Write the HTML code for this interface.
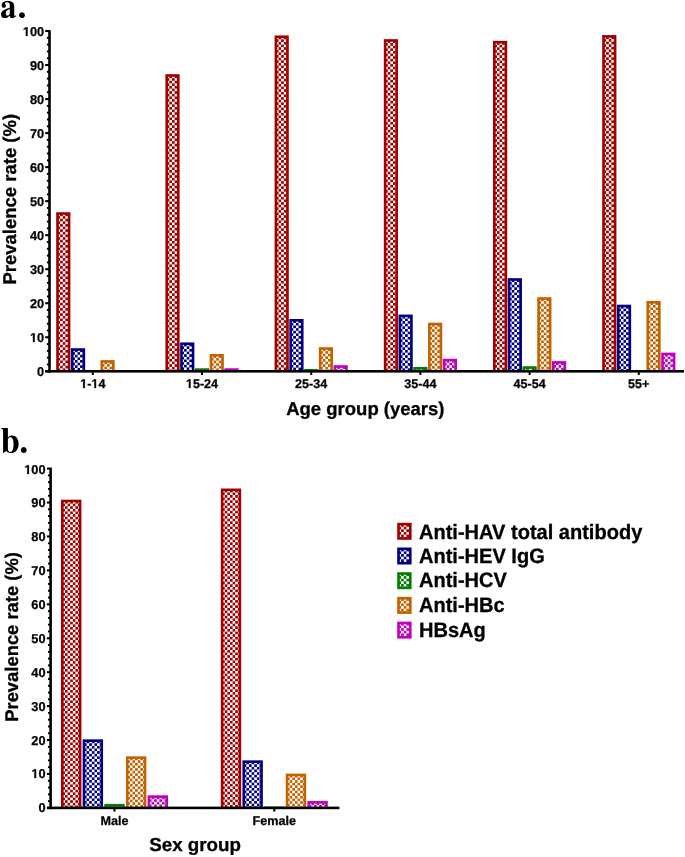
<!DOCTYPE html><html><head><meta charset="utf-8"><style>html,body{margin:0;padding:0;background:#fff;}svg{display:block;will-change:transform;text-rendering:geometricPrecision;}.ts text,.g1{stroke:#000;stroke-width:0.25px;}.g1{vector-effect:non-scaling-stroke;}.tb text{stroke:#000;stroke-width:0.3px;}</style></head><body><svg width="685" height="857" viewBox="0 0 685 857"><defs><pattern id="q0" patternUnits="userSpaceOnUse" x="57.50" y="213.51" width="5.250" height="5.250"><rect width="5.250" height="5.250" fill="#a00000"/><rect width="2.625" height="2.625" fill="#fff"/><rect x="2.625" y="2.625" width="2.625" height="2.625" fill="#fff"/></pattern><pattern id="q1" patternUnits="userSpaceOnUse" x="72.25" y="349.53" width="5.250" height="5.250"><rect width="5.250" height="5.250" fill="#000080"/><rect width="2.625" height="2.625" fill="#fff"/><rect x="2.625" y="2.625" width="2.625" height="2.625" fill="#fff"/></pattern><pattern id="q2" patternUnits="userSpaceOnUse" x="101.75" y="361.40" width="5.250" height="5.250"><rect width="5.250" height="5.250" fill="#c46200"/><rect width="2.625" height="2.625" fill="#fff"/><rect x="2.625" y="2.625" width="2.625" height="2.625" fill="#fff"/></pattern><pattern id="q3" patternUnits="userSpaceOnUse" x="166.70" y="75.48" width="5.250" height="5.250"><rect width="5.250" height="5.250" fill="#a00000"/><rect width="2.625" height="2.625" fill="#fff"/><rect x="2.625" y="2.625" width="2.625" height="2.625" fill="#fff"/></pattern><pattern id="q4" patternUnits="userSpaceOnUse" x="181.45" y="343.74" width="5.250" height="5.250"><rect width="5.250" height="5.250" fill="#000080"/><rect width="2.625" height="2.625" fill="#fff"/><rect x="2.625" y="2.625" width="2.625" height="2.625" fill="#fff"/></pattern><pattern id="q5" patternUnits="userSpaceOnUse" x="210.95" y="355.31" width="5.250" height="5.250"><rect width="5.250" height="5.250" fill="#c46200"/><rect width="2.625" height="2.625" fill="#fff"/><rect x="2.625" y="2.625" width="2.625" height="2.625" fill="#fff"/></pattern><pattern id="q6" patternUnits="userSpaceOnUse" x="275.90" y="36.72" width="5.250" height="5.250"><rect width="5.250" height="5.250" fill="#a00000"/><rect width="2.625" height="2.625" fill="#fff"/><rect x="2.625" y="2.625" width="2.625" height="2.625" fill="#fff"/></pattern><pattern id="q7" patternUnits="userSpaceOnUse" x="290.65" y="320.30" width="5.250" height="5.250"><rect width="5.250" height="5.250" fill="#000080"/><rect width="2.625" height="2.625" fill="#fff"/><rect x="2.625" y="2.625" width="2.625" height="2.625" fill="#fff"/></pattern><pattern id="q8" patternUnits="userSpaceOnUse" x="320.15" y="348.51" width="5.250" height="5.250"><rect width="5.250" height="5.250" fill="#c46200"/><rect width="2.625" height="2.625" fill="#fff"/><rect x="2.625" y="2.625" width="2.625" height="2.625" fill="#fff"/></pattern><pattern id="q9" patternUnits="userSpaceOnUse" x="334.90" y="366.51" width="5.250" height="5.250"><rect width="5.250" height="5.250" fill="#c000c0"/><rect width="2.625" height="2.625" fill="#fff"/><rect x="2.625" y="2.625" width="2.625" height="2.625" fill="#fff"/></pattern><pattern id="q10" patternUnits="userSpaceOnUse" x="385.10" y="40.47" width="5.250" height="5.250"><rect width="5.250" height="5.250" fill="#a00000"/><rect width="2.625" height="2.625" fill="#fff"/><rect x="2.625" y="2.625" width="2.625" height="2.625" fill="#fff"/></pattern><pattern id="q11" patternUnits="userSpaceOnUse" x="399.85" y="315.87" width="5.250" height="5.250"><rect width="5.250" height="5.250" fill="#000080"/><rect width="2.625" height="2.625" fill="#fff"/><rect x="2.625" y="2.625" width="2.625" height="2.625" fill="#fff"/></pattern><pattern id="q12" patternUnits="userSpaceOnUse" x="414.60" y="368.21" width="5.250" height="5.250"><rect width="5.250" height="5.250" fill="#008000"/><rect width="2.625" height="2.625" fill="#fff"/><rect x="2.625" y="2.625" width="2.625" height="2.625" fill="#fff"/></pattern><pattern id="q13" patternUnits="userSpaceOnUse" x="429.35" y="324.01" width="5.250" height="5.250"><rect width="5.250" height="5.250" fill="#c46200"/><rect width="2.625" height="2.625" fill="#fff"/><rect x="2.625" y="2.625" width="2.625" height="2.625" fill="#fff"/></pattern><pattern id="q14" patternUnits="userSpaceOnUse" x="444.10" y="360.08" width="5.250" height="5.250"><rect width="5.250" height="5.250" fill="#c000c0"/><rect width="2.625" height="2.625" fill="#fff"/><rect x="2.625" y="2.625" width="2.625" height="2.625" fill="#fff"/></pattern><pattern id="q15" patternUnits="userSpaceOnUse" x="494.30" y="42.17" width="5.250" height="5.250"><rect width="5.250" height="5.250" fill="#a00000"/><rect width="2.625" height="2.625" fill="#fff"/><rect x="2.625" y="2.625" width="2.625" height="2.625" fill="#fff"/></pattern><pattern id="q16" patternUnits="userSpaceOnUse" x="509.05" y="279.49" width="5.250" height="5.250"><rect width="5.250" height="5.250" fill="#000080"/><rect width="2.625" height="2.625" fill="#fff"/><rect x="2.625" y="2.625" width="2.625" height="2.625" fill="#fff"/></pattern><pattern id="q17" patternUnits="userSpaceOnUse" x="523.80" y="367.53" width="5.250" height="5.250"><rect width="5.250" height="5.250" fill="#008000"/><rect width="2.625" height="2.625" fill="#fff"/><rect x="2.625" y="2.625" width="2.625" height="2.625" fill="#fff"/></pattern><pattern id="q18" patternUnits="userSpaceOnUse" x="538.55" y="298.52" width="5.250" height="5.250"><rect width="5.250" height="5.250" fill="#c46200"/><rect width="2.625" height="2.625" fill="#fff"/><rect x="2.625" y="2.625" width="2.625" height="2.625" fill="#fff"/></pattern><pattern id="q19" patternUnits="userSpaceOnUse" x="553.30" y="362.43" width="5.250" height="5.250"><rect width="5.250" height="5.250" fill="#c000c0"/><rect width="2.625" height="2.625" fill="#fff"/><rect x="2.625" y="2.625" width="2.625" height="2.625" fill="#fff"/></pattern><pattern id="q20" patternUnits="userSpaceOnUse" x="603.50" y="36.38" width="5.250" height="5.250"><rect width="5.250" height="5.250" fill="#a00000"/><rect width="2.625" height="2.625" fill="#fff"/><rect x="2.625" y="2.625" width="2.625" height="2.625" fill="#fff"/></pattern><pattern id="q21" patternUnits="userSpaceOnUse" x="618.25" y="306.00" width="5.250" height="5.250"><rect width="5.250" height="5.250" fill="#000080"/><rect width="2.625" height="2.625" fill="#fff"/><rect x="2.625" y="2.625" width="2.625" height="2.625" fill="#fff"/></pattern><pattern id="q22" patternUnits="userSpaceOnUse" x="647.75" y="302.26" width="5.250" height="5.250"><rect width="5.250" height="5.250" fill="#c46200"/><rect width="2.625" height="2.625" fill="#fff"/><rect x="2.625" y="2.625" width="2.625" height="2.625" fill="#fff"/></pattern><pattern id="q23" patternUnits="userSpaceOnUse" x="662.50" y="353.95" width="5.250" height="5.250"><rect width="5.250" height="5.250" fill="#c000c0"/><rect width="2.625" height="2.625" fill="#fff"/><rect x="2.625" y="2.625" width="2.625" height="2.625" fill="#fff"/></pattern><pattern id="q24" patternUnits="userSpaceOnUse" x="62.30" y="500.98" width="5.250" height="5.250"><rect width="5.250" height="5.250" fill="#a00000"/><rect width="2.625" height="2.625" fill="#fff"/><rect x="2.625" y="2.625" width="2.625" height="2.625" fill="#fff"/></pattern><pattern id="q25" patternUnits="userSpaceOnUse" x="83.95" y="740.66" width="5.250" height="5.250"><rect width="5.250" height="5.250" fill="#000080"/><rect width="2.625" height="2.625" fill="#fff"/><rect x="2.625" y="2.625" width="2.625" height="2.625" fill="#fff"/></pattern><pattern id="q26" patternUnits="userSpaceOnUse" x="105.60" y="805.20" width="5.250" height="5.250"><rect width="5.250" height="5.250" fill="#008000"/><rect width="2.625" height="2.625" fill="#fff"/><rect x="2.625" y="2.625" width="2.625" height="2.625" fill="#fff"/></pattern><pattern id="q27" patternUnits="userSpaceOnUse" x="127.25" y="757.63" width="5.250" height="5.250"><rect width="5.250" height="5.250" fill="#c46200"/><rect width="2.625" height="2.625" fill="#fff"/><rect x="2.625" y="2.625" width="2.625" height="2.625" fill="#fff"/></pattern><pattern id="q28" patternUnits="userSpaceOnUse" x="148.90" y="796.61" width="5.250" height="5.250"><rect width="5.250" height="5.250" fill="#c000c0"/><rect width="2.625" height="2.625" fill="#fff"/><rect x="2.625" y="2.625" width="2.625" height="2.625" fill="#fff"/></pattern><pattern id="q29" patternUnits="userSpaceOnUse" x="222.10" y="489.82" width="5.250" height="5.250"><rect width="5.250" height="5.250" fill="#a00000"/><rect width="2.625" height="2.625" fill="#fff"/><rect x="2.625" y="2.625" width="2.625" height="2.625" fill="#fff"/></pattern><pattern id="q30" patternUnits="userSpaceOnUse" x="243.75" y="761.66" width="5.250" height="5.250"><rect width="5.250" height="5.250" fill="#000080"/><rect width="2.625" height="2.625" fill="#fff"/><rect x="2.625" y="2.625" width="2.625" height="2.625" fill="#fff"/></pattern><pattern id="q31" patternUnits="userSpaceOnUse" x="287.05" y="774.90" width="5.250" height="5.250"><rect width="5.250" height="5.250" fill="#c46200"/><rect width="2.625" height="2.625" fill="#fff"/><rect x="2.625" y="2.625" width="2.625" height="2.625" fill="#fff"/></pattern><pattern id="q32" patternUnits="userSpaceOnUse" x="308.70" y="802.35" width="5.250" height="5.250"><rect width="5.250" height="5.250" fill="#c000c0"/><rect width="2.625" height="2.625" fill="#fff"/><rect x="2.625" y="2.625" width="2.625" height="2.625" fill="#fff"/></pattern><pattern id="q33" patternUnits="userSpaceOnUse" x="398.50" y="524.10" width="5.250" height="5.250"><rect width="5.250" height="5.250" fill="#a00000"/><rect width="2.625" height="2.625" fill="#fff"/><rect x="2.625" y="2.625" width="2.625" height="2.625" fill="#fff"/></pattern><pattern id="q34" patternUnits="userSpaceOnUse" x="398.50" y="548.80" width="5.250" height="5.250"><rect width="5.250" height="5.250" fill="#000080"/><rect width="2.625" height="2.625" fill="#fff"/><rect x="2.625" y="2.625" width="2.625" height="2.625" fill="#fff"/></pattern><pattern id="q35" patternUnits="userSpaceOnUse" x="398.50" y="573.50" width="5.250" height="5.250"><rect width="5.250" height="5.250" fill="#008000"/><rect width="2.625" height="2.625" fill="#fff"/><rect x="2.625" y="2.625" width="2.625" height="2.625" fill="#fff"/></pattern><pattern id="q36" patternUnits="userSpaceOnUse" x="398.50" y="598.20" width="5.250" height="5.250"><rect width="5.250" height="5.250" fill="#c46200"/><rect width="2.625" height="2.625" fill="#fff"/><rect x="2.625" y="2.625" width="2.625" height="2.625" fill="#fff"/></pattern><pattern id="q37" patternUnits="userSpaceOnUse" x="398.50" y="622.90" width="5.250" height="5.250"><rect width="5.250" height="5.250" fill="#c000c0"/><rect width="2.625" height="2.625" fill="#fff"/><rect x="2.625" y="2.625" width="2.625" height="2.625" fill="#fff"/></pattern></defs><rect width="685" height="857" fill="#fff"/><g font-family="Liberation Sans, sans-serif" font-weight="bold" fill="#000"><rect x="56.20" y="212.21" width="14.20" height="158.09" fill="#a00000"/><rect x="58.85" y="214.86" width="8.90" height="155.44" fill="url(#q0)"/><rect x="70.95" y="348.23" width="14.20" height="22.07" fill="#000080"/><rect x="73.60" y="350.88" width="8.90" height="19.42" fill="url(#q1)"/><rect x="100.45" y="360.10" width="14.20" height="10.20" fill="#c46200"/><rect x="103.10" y="362.75" width="8.90" height="7.55" fill="url(#q2)"/><rect x="165.40" y="74.18" width="14.20" height="296.12" fill="#a00000"/><rect x="168.05" y="76.83" width="8.90" height="293.47" fill="url(#q3)"/><rect x="180.15" y="342.44" width="14.20" height="27.86" fill="#000080"/><rect x="182.80" y="345.09" width="8.90" height="25.21" fill="url(#q4)"/><rect x="194.90" y="368.27" width="14.20" height="2.03" fill="#008000"/><rect x="209.65" y="354.01" width="14.20" height="16.29" fill="#c46200"/><rect x="212.30" y="356.66" width="8.90" height="13.64" fill="url(#q5)"/><rect x="224.40" y="368.27" width="14.20" height="2.03" fill="#c000c0"/><rect x="274.60" y="35.42" width="14.20" height="334.88" fill="#a00000"/><rect x="277.25" y="38.07" width="8.90" height="332.23" fill="url(#q6)"/><rect x="289.35" y="319.00" width="14.20" height="51.30" fill="#000080"/><rect x="292.00" y="321.65" width="8.90" height="48.65" fill="url(#q7)"/><rect x="304.10" y="368.95" width="14.20" height="1.35" fill="#008000"/><rect x="318.85" y="347.21" width="14.20" height="23.09" fill="#c46200"/><rect x="321.50" y="349.86" width="8.90" height="20.44" fill="url(#q8)"/><rect x="333.60" y="365.21" width="14.20" height="5.09" fill="#c000c0"/><rect x="336.25" y="367.86" width="8.90" height="2.44" fill="url(#q9)"/><rect x="383.80" y="39.17" width="14.20" height="331.13" fill="#a00000"/><rect x="386.45" y="41.82" width="8.90" height="328.48" fill="url(#q10)"/><rect x="398.55" y="314.57" width="14.20" height="55.73" fill="#000080"/><rect x="401.20" y="317.22" width="8.90" height="53.08" fill="url(#q11)"/><rect x="413.30" y="366.91" width="14.20" height="3.39" fill="#008000"/><rect x="415.95" y="369.56" width="8.90" height="0.74" fill="url(#q12)"/><rect x="428.05" y="322.71" width="14.20" height="47.59" fill="#c46200"/><rect x="430.70" y="325.36" width="8.90" height="44.94" fill="url(#q13)"/><rect x="442.80" y="358.78" width="14.20" height="11.52" fill="#c000c0"/><rect x="445.45" y="361.43" width="8.90" height="8.87" fill="url(#q14)"/><rect x="493.00" y="40.87" width="14.20" height="329.43" fill="#a00000"/><rect x="495.65" y="43.52" width="8.90" height="326.78" fill="url(#q15)"/><rect x="507.75" y="278.19" width="14.20" height="92.11" fill="#000080"/><rect x="510.40" y="280.84" width="8.90" height="89.46" fill="url(#q16)"/><rect x="522.50" y="366.23" width="14.20" height="4.07" fill="#008000"/><rect x="525.15" y="368.88" width="8.90" height="1.42" fill="url(#q17)"/><rect x="537.25" y="297.22" width="14.20" height="73.08" fill="#c46200"/><rect x="539.90" y="299.87" width="8.90" height="70.43" fill="url(#q18)"/><rect x="552.00" y="361.13" width="14.20" height="9.17" fill="#c000c0"/><rect x="554.65" y="363.78" width="8.90" height="6.52" fill="url(#q19)"/><rect x="602.20" y="35.08" width="14.20" height="335.22" fill="#a00000"/><rect x="604.85" y="37.73" width="8.90" height="332.57" fill="url(#q20)"/><rect x="616.95" y="304.70" width="14.20" height="65.60" fill="#000080"/><rect x="619.60" y="307.35" width="8.90" height="62.95" fill="url(#q21)"/><rect x="646.45" y="300.96" width="14.20" height="69.34" fill="#c46200"/><rect x="649.10" y="303.61" width="8.90" height="66.69" fill="url(#q22)"/><rect x="661.20" y="352.65" width="14.20" height="17.65" fill="#c000c0"/><rect x="663.85" y="355.30" width="8.90" height="15.00" fill="url(#q23)"/><rect x="48.20" y="30.20" width="2.6" height="342.40" fill="#000"/><rect x="45.20" y="370.00" width="638.80" height="2.6" fill="#000"/><g class="ts" font-size="12.8" text-anchor="end"><rect x="45.20" y="370.25" width="4.3" height="2.1" fill="#000"/><text transform="translate(44.20,376.00)">0</text><rect x="46.90" y="363.54" width="2.6" height="1.9" fill="#000"/><rect x="46.90" y="356.74" width="2.6" height="1.9" fill="#000"/><rect x="46.90" y="349.93" width="2.6" height="1.9" fill="#000"/><rect x="46.90" y="343.13" width="2.6" height="1.9" fill="#000"/><rect x="45.20" y="336.22" width="4.3" height="2.1" fill="#000"/><text transform="translate(44.20,341.97)"> 0</text><path class="g1" transform="translate(29.963,342.00) scale(0.006250,-0.006250)" d="M478 0L478 1170L140 959L140 1180L493 1409L759 1409L759 0Z"/><rect x="46.90" y="329.51" width="2.6" height="1.9" fill="#000"/><rect x="46.90" y="322.71" width="2.6" height="1.9" fill="#000"/><rect x="46.90" y="315.90" width="2.6" height="1.9" fill="#000"/><rect x="46.90" y="309.10" width="2.6" height="1.9" fill="#000"/><rect x="45.20" y="302.19" width="4.3" height="2.1" fill="#000"/><text transform="translate(44.20,307.94)">20</text><rect x="46.90" y="295.48" width="2.6" height="1.9" fill="#000"/><rect x="46.90" y="288.68" width="2.6" height="1.9" fill="#000"/><rect x="46.90" y="281.87" width="2.6" height="1.9" fill="#000"/><rect x="46.90" y="275.07" width="2.6" height="1.9" fill="#000"/><rect x="45.20" y="268.16" width="4.3" height="2.1" fill="#000"/><text transform="translate(44.20,273.91)">30</text><rect x="46.90" y="261.45" width="2.6" height="1.9" fill="#000"/><rect x="46.90" y="254.65" width="2.6" height="1.9" fill="#000"/><rect x="46.90" y="247.84" width="2.6" height="1.9" fill="#000"/><rect x="46.90" y="241.04" width="2.6" height="1.9" fill="#000"/><rect x="45.20" y="234.13" width="4.3" height="2.1" fill="#000"/><text transform="translate(44.20,239.88)">40</text><rect x="46.90" y="227.42" width="2.6" height="1.9" fill="#000"/><rect x="46.90" y="220.62" width="2.6" height="1.9" fill="#000"/><rect x="46.90" y="213.81" width="2.6" height="1.9" fill="#000"/><rect x="46.90" y="207.01" width="2.6" height="1.9" fill="#000"/><rect x="45.20" y="200.10" width="4.3" height="2.1" fill="#000"/><text transform="translate(44.20,205.85)">50</text><rect x="46.90" y="193.39" width="2.6" height="1.9" fill="#000"/><rect x="46.90" y="186.59" width="2.6" height="1.9" fill="#000"/><rect x="46.90" y="179.78" width="2.6" height="1.9" fill="#000"/><rect x="46.90" y="172.98" width="2.6" height="1.9" fill="#000"/><rect x="45.20" y="166.07" width="4.3" height="2.1" fill="#000"/><text transform="translate(44.20,171.82)">60</text><rect x="46.90" y="159.36" width="2.6" height="1.9" fill="#000"/><rect x="46.90" y="152.56" width="2.6" height="1.9" fill="#000"/><rect x="46.90" y="145.75" width="2.6" height="1.9" fill="#000"/><rect x="46.90" y="138.95" width="2.6" height="1.9" fill="#000"/><rect x="45.20" y="132.04" width="4.3" height="2.1" fill="#000"/><text transform="translate(44.20,137.79)">70</text><rect x="46.90" y="125.33" width="2.6" height="1.9" fill="#000"/><rect x="46.90" y="118.53" width="2.6" height="1.9" fill="#000"/><rect x="46.90" y="111.72" width="2.6" height="1.9" fill="#000"/><rect x="46.90" y="104.92" width="2.6" height="1.9" fill="#000"/><rect x="45.20" y="98.01" width="4.3" height="2.1" fill="#000"/><text transform="translate(44.20,103.76)">80</text><rect x="46.90" y="91.30" width="2.6" height="1.9" fill="#000"/><rect x="46.90" y="84.50" width="2.6" height="1.9" fill="#000"/><rect x="46.90" y="77.69" width="2.6" height="1.9" fill="#000"/><rect x="46.90" y="70.89" width="2.6" height="1.9" fill="#000"/><rect x="45.20" y="63.98" width="4.3" height="2.1" fill="#000"/><text transform="translate(44.20,69.73)">90</text><rect x="46.90" y="57.27" width="2.6" height="1.9" fill="#000"/><rect x="46.90" y="50.47" width="2.6" height="1.9" fill="#000"/><rect x="46.90" y="43.66" width="2.6" height="1.9" fill="#000"/><rect x="46.90" y="36.86" width="2.6" height="1.9" fill="#000"/><rect x="45.20" y="29.95" width="4.3" height="2.1" fill="#000"/><text transform="translate(44.20,35.70)"> 00</text><path class="g1" transform="translate(22.844,36.00) scale(0.006250,-0.006250)" d="M478 0L478 1170L140 959L140 1180L493 1409L759 1409L759 0Z"/></g><g class="ts" font-size="12.6" text-anchor="middle"><rect x="91.80" y="371.30" width="2" height="3.7" fill="#000"/><text transform="translate(92.80,388.00)"> - 4</text><path class="g1" transform="translate(80.191,388.00) scale(0.006152,-0.006152)" d="M478 0L478 1170L140 959L140 1180L493 1409L759 1409L759 0Z"/><path class="g1" transform="translate(91.394,388.00) scale(0.006152,-0.006152)" d="M478 0L478 1170L140 959L140 1180L493 1409L759 1409L759 0Z"/><rect x="201.00" y="371.30" width="2" height="3.7" fill="#000"/><text transform="translate(202.00,388.00)"> 5-24</text><path class="g1" transform="translate(185.887,388.00) scale(0.006152,-0.006152)" d="M478 0L478 1170L140 959L140 1180L493 1409L759 1409L759 0Z"/><rect x="310.20" y="371.30" width="2" height="3.7" fill="#000"/><text transform="translate(311.20,388.00)">25-34</text><rect x="419.40" y="371.30" width="2" height="3.7" fill="#000"/><text transform="translate(420.40,388.00)">35-44</text><rect x="528.60" y="371.30" width="2" height="3.7" fill="#000"/><text transform="translate(529.60,388.00)">45-54</text><rect x="637.80" y="371.30" width="2" height="3.7" fill="#000"/><text transform="translate(638.80,388.00)">55+</text></g><rect x="61.00" y="499.68" width="20.40" height="307.22" fill="#a00000"/><rect x="63.65" y="502.33" width="15.10" height="304.57" fill="url(#q24)"/><rect x="82.65" y="739.36" width="20.40" height="67.54" fill="#000080"/><rect x="85.30" y="742.01" width="15.10" height="64.89" fill="url(#q25)"/><rect x="104.30" y="803.90" width="20.40" height="3.00" fill="#008000"/><rect x="106.95" y="806.55" width="15.10" height="0.35" fill="url(#q26)"/><rect x="125.95" y="756.33" width="20.40" height="50.57" fill="#c46200"/><rect x="128.60" y="758.98" width="15.10" height="47.92" fill="url(#q27)"/><rect x="147.60" y="795.31" width="20.40" height="11.59" fill="#c000c0"/><rect x="150.25" y="797.96" width="15.10" height="8.94" fill="url(#q28)"/><rect x="220.80" y="488.52" width="20.40" height="318.38" fill="#a00000"/><rect x="223.45" y="491.17" width="15.10" height="315.73" fill="url(#q29)"/><rect x="242.45" y="760.36" width="20.40" height="46.54" fill="#000080"/><rect x="245.10" y="763.01" width="15.10" height="43.89" fill="url(#q30)"/><rect x="264.10" y="806.47" width="20.40" height="0.43" fill="#008000"/><rect x="285.75" y="773.60" width="20.40" height="33.30" fill="#c46200"/><rect x="288.40" y="776.25" width="15.10" height="30.65" fill="url(#q31)"/><rect x="307.40" y="801.05" width="20.40" height="5.85" fill="#c000c0"/><rect x="310.05" y="803.70" width="15.10" height="3.20" fill="url(#q32)"/><rect x="49.30" y="467.60" width="2.6" height="341.60" fill="#000"/><rect x="46.95" y="806.60" width="292.45" height="2.6" fill="#000"/><g class="ts" font-size="12.8" text-anchor="end"><rect x="46.95" y="806.85" width="3.65" height="2.1" fill="#000"/><text transform="translate(45.60,812.30)">0</text><rect x="48.00" y="800.16" width="2.6" height="1.9" fill="#000"/><rect x="48.00" y="793.38" width="2.6" height="1.9" fill="#000"/><rect x="48.00" y="786.59" width="2.6" height="1.9" fill="#000"/><rect x="48.00" y="779.81" width="2.6" height="1.9" fill="#000"/><rect x="46.95" y="772.92" width="3.65" height="2.1" fill="#000"/><text transform="translate(45.60,778.43)"> 0</text><path class="g1" transform="translate(31.363,778.00) scale(0.006250,-0.006250)" d="M478 0L478 1170L140 959L140 1180L493 1409L759 1409L759 0Z"/><rect x="48.00" y="766.23" width="2.6" height="1.9" fill="#000"/><rect x="48.00" y="759.45" width="2.6" height="1.9" fill="#000"/><rect x="48.00" y="752.66" width="2.6" height="1.9" fill="#000"/><rect x="48.00" y="745.88" width="2.6" height="1.9" fill="#000"/><rect x="46.95" y="738.99" width="3.65" height="2.1" fill="#000"/><text transform="translate(45.60,744.56)">20</text><rect x="48.00" y="732.30" width="2.6" height="1.9" fill="#000"/><rect x="48.00" y="725.52" width="2.6" height="1.9" fill="#000"/><rect x="48.00" y="718.73" width="2.6" height="1.9" fill="#000"/><rect x="48.00" y="711.95" width="2.6" height="1.9" fill="#000"/><rect x="46.95" y="705.06" width="3.65" height="2.1" fill="#000"/><text transform="translate(45.60,710.69)">30</text><rect x="48.00" y="698.37" width="2.6" height="1.9" fill="#000"/><rect x="48.00" y="691.59" width="2.6" height="1.9" fill="#000"/><rect x="48.00" y="684.80" width="2.6" height="1.9" fill="#000"/><rect x="48.00" y="678.02" width="2.6" height="1.9" fill="#000"/><rect x="46.95" y="671.13" width="3.65" height="2.1" fill="#000"/><text transform="translate(45.60,676.82)">40</text><rect x="48.00" y="664.44" width="2.6" height="1.9" fill="#000"/><rect x="48.00" y="657.66" width="2.6" height="1.9" fill="#000"/><rect x="48.00" y="650.87" width="2.6" height="1.9" fill="#000"/><rect x="48.00" y="644.09" width="2.6" height="1.9" fill="#000"/><rect x="46.95" y="637.20" width="3.65" height="2.1" fill="#000"/><text transform="translate(45.60,642.95)">50</text><rect x="48.00" y="630.51" width="2.6" height="1.9" fill="#000"/><rect x="48.00" y="623.73" width="2.6" height="1.9" fill="#000"/><rect x="48.00" y="616.94" width="2.6" height="1.9" fill="#000"/><rect x="48.00" y="610.16" width="2.6" height="1.9" fill="#000"/><rect x="46.95" y="603.27" width="3.65" height="2.1" fill="#000"/><text transform="translate(45.60,609.08)">60</text><rect x="48.00" y="596.58" width="2.6" height="1.9" fill="#000"/><rect x="48.00" y="589.80" width="2.6" height="1.9" fill="#000"/><rect x="48.00" y="583.01" width="2.6" height="1.9" fill="#000"/><rect x="48.00" y="576.23" width="2.6" height="1.9" fill="#000"/><rect x="46.95" y="569.34" width="3.65" height="2.1" fill="#000"/><text transform="translate(45.60,575.21)">70</text><rect x="48.00" y="562.65" width="2.6" height="1.9" fill="#000"/><rect x="48.00" y="555.87" width="2.6" height="1.9" fill="#000"/><rect x="48.00" y="549.08" width="2.6" height="1.9" fill="#000"/><rect x="48.00" y="542.30" width="2.6" height="1.9" fill="#000"/><rect x="46.95" y="535.41" width="3.65" height="2.1" fill="#000"/><text transform="translate(45.60,541.34)">80</text><rect x="48.00" y="528.72" width="2.6" height="1.9" fill="#000"/><rect x="48.00" y="521.94" width="2.6" height="1.9" fill="#000"/><rect x="48.00" y="515.15" width="2.6" height="1.9" fill="#000"/><rect x="48.00" y="508.37" width="2.6" height="1.9" fill="#000"/><rect x="46.95" y="501.48" width="3.65" height="2.1" fill="#000"/><text transform="translate(45.60,507.47)">90</text><rect x="48.00" y="494.79" width="2.6" height="1.9" fill="#000"/><rect x="48.00" y="488.01" width="2.6" height="1.9" fill="#000"/><rect x="48.00" y="481.22" width="2.6" height="1.9" fill="#000"/><rect x="48.00" y="474.44" width="2.6" height="1.9" fill="#000"/><rect x="46.95" y="467.55" width="3.65" height="2.1" fill="#000"/><text transform="translate(45.60,473.60)"> 00</text><path class="g1" transform="translate(24.244,474.00) scale(0.006250,-0.006250)" d="M478 0L478 1170L140 959L140 1180L493 1409L759 1409L759 0Z"/></g><g class="ts" font-size="12.6" text-anchor="middle"><rect x="113.50" y="807.90" width="2" height="3.7" fill="#000"/><text transform="translate(114.50,824.70)">Male</text><rect x="273.30" y="807.90" width="2" height="3.7" fill="#000"/><text transform="translate(274.30,824.70)">Female</text></g><rect x="397.20" y="522.80" width="14.40" height="17.00" fill="#a00000"/><rect x="399.85" y="525.45" width="9.10" height="11.70" fill="url(#q33)"/><rect x="397.20" y="547.50" width="14.40" height="17.00" fill="#000080"/><rect x="399.85" y="550.15" width="9.10" height="11.70" fill="url(#q34)"/><rect x="397.20" y="572.20" width="14.40" height="17.00" fill="#008000"/><rect x="399.85" y="574.85" width="9.10" height="11.70" fill="url(#q35)"/><rect x="397.20" y="596.90" width="14.40" height="17.00" fill="#c46200"/><rect x="399.85" y="599.55" width="9.10" height="11.70" fill="url(#q36)"/><rect x="397.20" y="621.60" width="14.40" height="17.00" fill="#c000c0"/><rect x="399.85" y="624.25" width="9.10" height="11.70" fill="url(#q37)"/><g class="tb" font-size="20.05"><text transform="translate(419.00,539.00) scale(1,1.04)">Anti-HAV total antibody</text><text transform="translate(419.00,563.00) scale(1,1.04)">Anti-HEV IgG</text><text transform="translate(419.00,587.00) scale(1,1.04)">Anti-HCV</text><text transform="translate(419.00,612.00) scale(1,1.04)">Anti-HBc</text><text transform="translate(419.00,637.00) scale(1,1.04)">HBsAg</text></g><g class="tb"><text transform="translate(16.00,199.25) rotate(-90)" text-anchor="middle" font-size="18.5">Prevalence rate (%)</text><text transform="translate(17.50,636.95) rotate(-90)" text-anchor="middle" font-size="18.4">Prevalence rate (%)</text><text transform="translate(365.35,414.70)" text-anchor="middle" font-size="18.5">Age group (years)</text><text transform="translate(195.05,851.20)" text-anchor="middle" font-size="18.75">Sex group</text></g></g><g fill="#000"><g aria-label="a."><path transform="translate(0.200,17.600) scale(0.032550,-0.035000)" d="M488 43 473 64 463 54C460 51 457 50 452 50C438 50 431 58 431 75V336C431 421 355 473 233 473C120 473 44 422 44 347C44 305 68 281 109 281C149 281 177 305 177 339C177 353 172 366 159 382C150 392 147 398 147 404C147 425 174 441 210 441C269 441 294 414 294 353V280C177 244 130 226 92 201C47 171 25 136 25 92C25 31 71 -14 135 -14C193 -14 239 6 294 56C305 5 327 -14 376 -14C419 -14 450 2 488 43ZM293 100C266 69 246 57 222 57C192 57 171 84 171 124C171 182 213 223 293 245Z"/><path transform="translate(17.570,17.600) scale(0.035000,-0.035000)" d="M210 70C210 117 172 156 125 156C79 156 41 117 41 72C41 24 77 -13 124 -13C172 -13 210 24 210 70Z"/></g><g aria-label="b."><path transform="translate(0.600,452.600) scale(0.034580,-0.036400)" d="M521 239C521 377 444 473 333 473C285 473 248 456 211 417V676H17V652C63 643 72 634 72 594V-13H84L163 43C209 2 245 -14 295 -14C428 -14 521 90 521 239ZM374 221C374 83 344 18 280 18C238 18 211 49 211 97V360C228 403 248 419 281 419C343 419 374 352 374 221Z"/><path transform="translate(19.426,452.600) scale(0.034580,-0.036400)" d="M210 70C210 117 172 156 125 156C79 156 41 117 41 72C41 24 77 -13 124 -13C172 -13 210 24 210 70Z"/></g></g></svg></body></html>
